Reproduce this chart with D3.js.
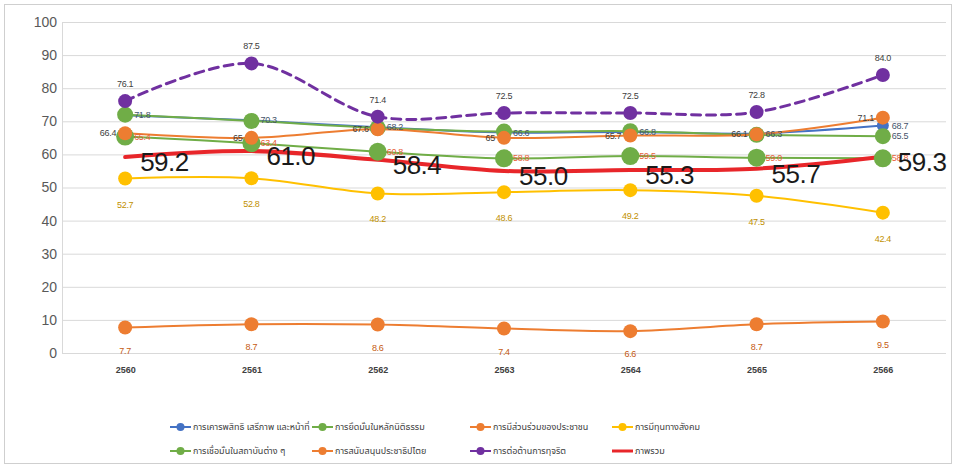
<!DOCTYPE html>
<html>
<head>
<meta charset="utf-8" />
<title></title>
<script src="https://d3js.org/d3.v7.min.js"></script>
<style>
	body {
		margin: 0;
		background: #fff;
	}
	svg text {
		font-family: "Noto Sans Thai", "Noto Sans", "DejaVu Sans", sans-serif;
	}
</style>
</head>
<body>
<svg id="chart" width="956" height="468"></svg>
<script>
	// data
	var years = ["2560", "2561", "2562", "2563", "2564", "2565", "2566"];
	var yTicks = [0, 10, 20, 30, 40, 50, 60, 70, 80, 90, 100];

	var rights = [71.8, 70.3, 68.2, 66.6, 66.8, 66.3, 68.7];
	var ruleOfLaw = [72.0, 70.1, 68.0, 66.9, 67.0, 65.9, 65.5];
	var participation = [7.7, 8.7, 8.6, 7.4, 6.6, 8.7, 9.5];
	var socialCapital = [52.7, 52.8, 48.2, 48.6, 49.2, 47.5, 42.4];
	var institutions = [65.4, 63.4, 60.8, 58.8, 59.5, 59.0, 58.8];
	var democracy = [66.4, 65.0, 67.6, 65.0, 65.7, 66.1, 71.1];
	var antiCorruption = [76.1, 87.5, 71.4, 72.5, 72.5, 72.8, 84.0];
	var overall = [59.2, 61.0, 58.4, 55.0, 55.3, 55.7, 59.3];

	var series = [
		{ name: "การเคารพสิทธิ เสรีภาพ และหน้าที่", values: rights, color: "#4472C4", r: 6, label: "right", labelColor: "#44546A" },
		{ name: "การยึดมั่นในหลักนิติธรรม", values: ruleOfLaw, color: "#70AD47", r: 8, label: "right", labelColor: "#44546A", onlyLast: true },
		{ name: "การมีส่วนร่วมของประชาชน", values: participation, color: "#ED7D31", r: 7, label: "below", labelColor: "#C55A11" },
		{ name: "การมีทุนทางสังคม", values: socialCapital, color: "#FFC000", r: 7, label: "below", labelColor: "#BF9000" },
		{ name: "การเชื่อมั่นในสถาบันต่าง ๆ", values: institutions, color: "#70AD47", r: 9, label: "right", labelColor: "#E8613A" },
		{ name: "การสนับสนุนประชาธิปไตย", values: democracy, color: "#ED7D31", r: 7, label: "left", labelColor: "#404040" },
		{ name: "การต่อต้านการทุจริต", values: antiCorruption, color: "#7030A0", r: 7, label: "above", labelColor: "#404040", dash: "9,6" },
		{ name: "ภาพรวม", values: overall, color: "#E8262A", r: 0, label: "big", labelColor: "#1a1a1a" }
	];

	var svg = d3.select("#chart"),
		margin = { top: 22, left: 62, bottom: 115, right: 10 },
		width = +svg.attr("width"),
		height = +svg.attr("height");

	// frame
	svg.append("rect")
		.attr("x", 4.5).attr("y", 4.5)
		.attr("width", width - 9).attr("height", height - 9)
		.attr("fill", "none")
		.attr("stroke", "#cfcfcf");

	var x = d3.scalePoint()
		.domain(years)
		.range([margin.left, width - margin.right])
		.padding(0.5);

	var y = d3.scaleLinear()
		.domain([0, 100])
		.range([height - margin.bottom, margin.top]);

	// grid + y axis
	var yAxis = svg.append("g")
		.attr("transform", `translate(${margin.left},0)`)
		.call(d3.axisLeft(y).tickValues(yTicks).tickSize(-(width - margin.right - margin.left)).tickPadding(6))
	yAxis.select(".domain").attr("stroke", "#d9d9d9")
	yAxis.selectAll(".tick line").attr("stroke", "#d9d9d9")
	yAxis.selectAll(".tick text")
		.attr("x", -5)
		.style("font-family", "'Liberation Sans', Arial, sans-serif")
		.style("font-size", "14px")
		.attr("fill", "#595959")

	// x axis labels
	var xAxis = svg.append("g")
		.attr("transform", `translate(0,${height - margin.bottom})`)
		.call(d3.axisBottom(x).tickSize(0).tickPadding(14))
	xAxis.select(".domain").remove()
	xAxis.selectAll(".tick text")
		.style("font-family", "'Liberation Sans', sans-serif")
		.style("font-size", "9px")
		.style("font-weight", "bold")
		.attr("fill", "#404040")

	var line = d3.line()
		.x((d, i) => x(years[i]))
		.y(d => y(d))
		.curve(d3.curveCatmullRom.alpha(0.5));

	svg.append("g").selectAll("path")
		.data(series)
		.enter().append("path")
		.attr("d", d => line(d.values))
		.attr("fill", "none")
		.attr("stroke", d => d.color)
		.attr("stroke-width", d => d.label == "big" ? 4 : (d.dash ? 3 : 2))
		.attr("stroke-dasharray", d => d.dash || null)
		.attr("stroke-linecap", "round");

	var dots = svg.append("g").selectAll("g")
		.data(series.filter(s => s.r > 0))
		.enter().append("g")
		.attr("fill", d => d.color);

	dots.selectAll("circle")
		.data(d => d.values.map(v => ({ v: v, r: d.r })))
		.enter().append("circle")
		.attr("cx", (d, i) => x(years[i]))
		.attr("cy", d => y(d.v))
		.attr("r", d => d.r);

	// data labels
	var labels = svg.append("g").selectAll("g")
		.data(series)
		.enter().append("g")
		.attr("fill", d => d.labelColor);

	labels.selectAll("text")
		.data(d => d.values.map((v, i) => ({ v: v, i: i, s: d })).filter(p => !p.s.onlyLast || p.i == years.length - 1))
		.enter().append("text")
		.attr("x", d => {
			var px = x(years[d.i]);
			if (d.s.label == "right") return px + 9;
			if (d.s.label == "left") return px - 9;
			if (d.s.label == "big") return px + 15;
			return px;
		})
		.attr("y", d => {
			var py = y(d.v);
			if (d.s.label == "above") return py - 14;
			if (d.s.label == "below") return py + (d.v < 20 ? 26 : 29);
			if (d.s.label == "big") return py + 14;
			return py + 3;
		})
		.attr("text-anchor", d => d.s.label == "left" ? "end" : (d.s.label == "above" || d.s.label == "below") ? "middle" : "start")
		.style("font-family", "'Liberation Sans', Arial, sans-serif")
		.style("font-size", d => d.s.label == "big" ? "26px" : "9px")
		.style("letter-spacing", d => d.s.label == "big" ? "-0.5px" : "-0.3px")
		.text(d => d.v.toFixed(d.s.label == "left" && d.v % 1 == 0 ? 0 : 1));

	// legend
	var colX = [170, 312, 470, 612];
	var legend = svg.append("g")
		.selectAll("g")
		.data(series)
		.enter().append("g")
		.attr("transform", (d, i) => "translate(" + colX[i % 4] + "," + (427 + Math.floor(i / 4) * 24) + ")");

	legend.append("line")
		.attr("x1", 0).attr("x2", 21)
		.attr("stroke", d => d.color)
		.attr("stroke-width", d => d.r ? 2 : 3);

	legend.filter(d => d.r > 0).append("circle")
		.attr("cx", 10.5)
		.attr("r", 4)
		.attr("fill", d => d.color);

	legend.append("text")
		.attr("x", 23)
		.attr("dy", "0.35em")
		.style("font-size", "9px")
		.attr("fill", "#404040")
		.text(d => d.name);
</script>
</body>
</html>
